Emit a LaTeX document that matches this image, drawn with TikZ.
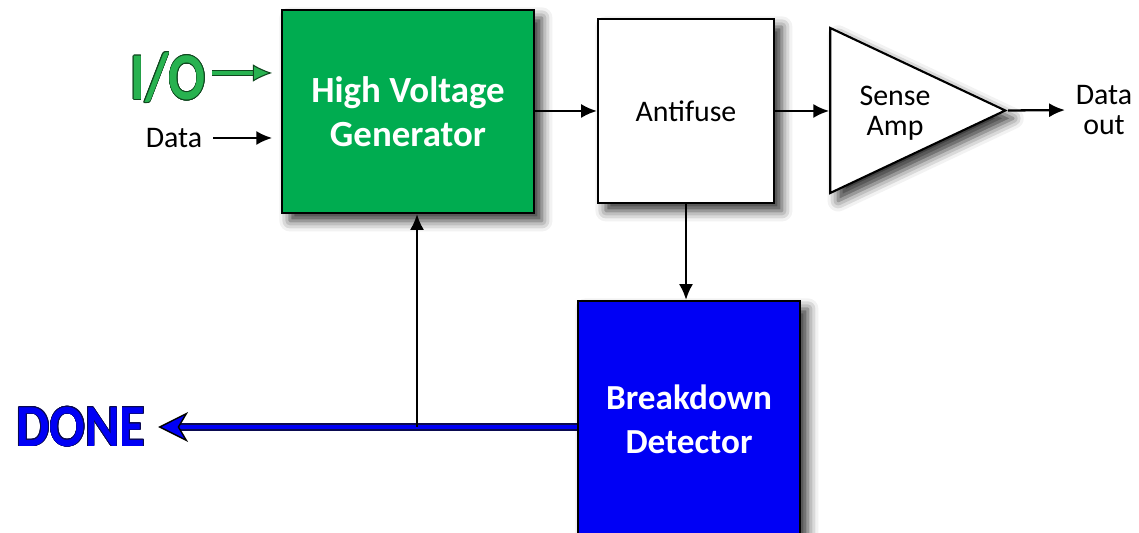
\documentclass[tikz,border=0pt]{standalone}
\usepackage{fontspec}
\setmainfont{Carlito}
\usepackage{contour}
\usepackage{graphicx}
\usepackage{xcolor}
\usepackage{tikz}
\usetikzlibrary{arrows.meta, positioning, shapes.geometric, shadows.blur}

\definecolor{verdeAT}{RGB}{0,172,80}
\definecolor{verdeIO}{RGB}{40,178,80}
\definecolor{verdeEsc}{RGB}{15,70,30}
\definecolor{azulBD}{RGB}{0,0,245}
\definecolor{azulEsc}{RGB}{10,10,80}
\contourlength{0.4pt}

\begin{document}
\begin{tikzpicture}[
    >={Latex[length=9pt,width=8pt]},
    bloco/.style={
        rectangle,
        draw,
        line width=1.2pt,
        align=center,
        inner sep=0pt,
        blur shadow={shadow xshift=4.5pt, shadow yshift=-4.5pt,
                     shadow blur radius=6pt, shadow opacity=80}
    },
    amp/.style={
        isosceles triangle,
        isosceles triangle stretches,
        shape border rotate=0,
        draw,
        line width=1.2pt,
        fill=white,
        inner sep=0pt,
        minimum width=3.3cm,
        minimum height=3.5cm,
        blur shadow={shadow xshift=4.5pt, shadow yshift=-4.5pt,
                     shadow blur radius=6pt, shadow opacity=80}
    },
    rotulo/.style={align=center, inner sep=1pt, font=\fontsize{17}{17}\selectfont},
    seta/.style={->, line width=1.3pt},
    setaIO/.style={
        draw=verdeIO, line width=2.2pt,
        -{Latex[length=11pt,width=10pt,color=verdeEsc,fill=verdeIO,line width=0.6pt]},
        preaction={draw=verdeEsc, line width=3.6pt, -{}, shorten >=14pt}
    },
    setaDONE/.style={
        draw=azulBD, line width=2.4pt,
        -{Stealth[length=17pt,width=17pt,inset=5pt,color=black,fill=azulBD,line width=0.8pt]},
        preaction={draw=azulEsc, line width=4pt, -{}, shorten >=19pt}
    }
]
\useasboundingbox (0,0) rectangle (22.78,10.66);

% blocos principais
\node[bloco, fill=verdeAT, text=white, minimum width=5.04cm, minimum height=4.06cm,
      font=\bfseries\fontsize{21}{25}\selectfont] (hvg) at (8.16,8.43) {High Voltage\\Generator};
\node[bloco, fill=white, minimum width=3.52cm, minimum height=3.68cm,
      font=\fontsize{17}{18}\selectfont] (af) at (13.72,8.44) {Antifuse};
\node[amp, anchor=apex, label={[rotulo, xshift=0.25cm, yshift=-0.05cm]center:Sense\\Amp}] (sa) at (20.16,8.45) {};
\node[bloco, fill=azulBD, text=white, minimum width=4.44cm, minimum height=4.74cm,
      font=\bfseries\fontsize{20}{25}\selectfont] (bd) at (13.78,2.27) {Breakdown\\Detector};

% entradas e saidas
\node[inner sep=0pt, text=verdeIO, font=\bfseries\fontsize{38}{38}\selectfont] (io) at (3.36,9.1) {\scalebox{0.82}[1]{\contour{verdeEsc}{I/O}}};
\node[rotulo] (din) at (3.48,7.9) {Data};
\node[rotulo] (dout) at (22.08,8.46) {Data\\out};
\node[inner sep=0pt, text=azulBD, font=\bfseries\fontsize{34}{34}\selectfont] (done) at (1.62,2.12) {\scalebox{0.88}[1]{\contour{azulEsc}{DONE}}};
\coordinate (ioini) at (4.24,9.2);
\coordinate (derivacao) at (8.34,2.12);

% ligacoes
\draw[setaIO, shorten >=5pt] (ioini) -- (ioini -| hvg.west);
\draw[seta, shorten >=5pt, shorten <=5pt] (din.east) -- (din.east -| hvg.west);
\draw[seta] (hvg.east |- af.west) -- (af.west);
\draw[seta] (af.east) -- (af.east -| sa.west);
\draw[seta, shorten >=5pt] (sa.apex) -- (dout.west);
\draw[seta] (af.south) -- (af.south |- bd.north);
\draw[setaDONE, shorten >=7pt] (bd.west |- derivacao) -- (done.east);
\draw[seta] (derivacao) -- (derivacao |- hvg.south);

\end{tikzpicture}
\end{document}
